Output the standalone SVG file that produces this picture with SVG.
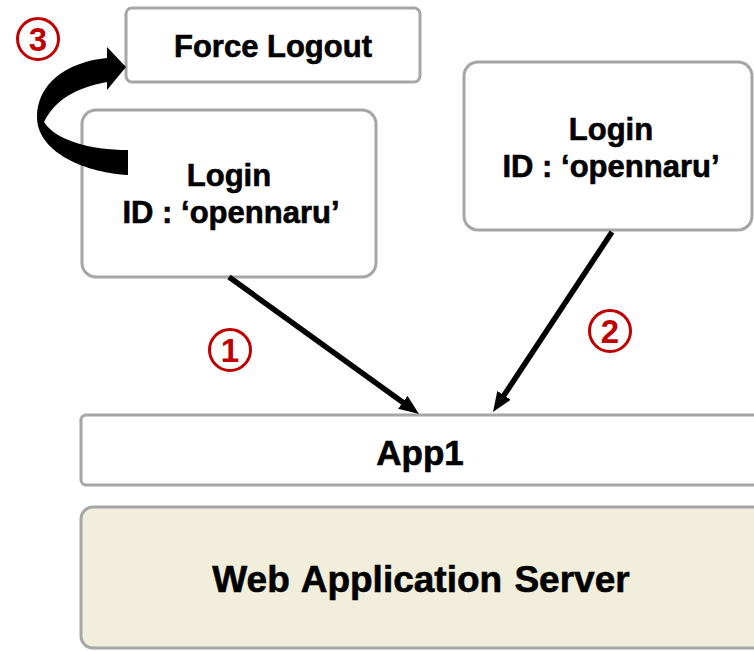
<svg xmlns="http://www.w3.org/2000/svg" width="754" height="651" viewBox="0 0 754 651">
<defs>
<style>
.box{fill:#FFFFFF;stroke:#A6A6A6;stroke-width:3}
.was{fill:#F1EFDC;stroke:#A6A6A6;stroke-width:3}
.t{font-family:"Liberation Sans",Arial,sans-serif;font-weight:bold;fill:#000;stroke:#000;stroke-width:0.6;text-anchor:middle}
.conn{stroke:#000;stroke-width:5.5;fill:none}
.num{fill:none;stroke:#C00000;stroke-width:3}
.numt{font-family:"Liberation Sans",Arial,sans-serif;font-weight:bold;fill:#C00000;text-anchor:middle;font-size:33px}
</style>
<marker id="ah" viewBox="0 0 20 16" refX="8" refY="8" markerWidth="20" markerHeight="16" markerUnits="userSpaceOnUse" orient="auto">
<path d="M0,0 L20,8 L0,16 Z" fill="#000"/>
</marker>
</defs>
<rect width="754" height="651" fill="#FFFFFF"/>
<g id="force-logout">
<rect class="box" x="126" y="8" width="294" height="74" rx="6"/>
<text class="t" x="273" y="57" font-size="31">Force Logout</text>
</g>
<g id="login-left">
<rect class="box" x="82" y="110" width="294" height="167" rx="14"/>
<text class="t" x="229" y="186" font-size="31">Login</text>
<text class="t" x="231" y="223" font-size="31">ID : ‘opennaru’</text>
</g>
<g id="login-right">
<rect class="box" x="464" y="62" width="288" height="168" rx="14"/>
<text class="t" x="611" y="140" font-size="31">Login</text>
<text class="t" x="611" y="177" font-size="31">ID : ‘opennaru’</text>
</g>
<g id="app1">
<rect class="box" x="81" y="415" width="700" height="70" rx="5"/>
<text class="t" x="420" y="465" font-size="35">App1</text>
</g>
<g id="was">
<rect class="was" x="81" y="507" width="700" height="141" rx="12"/>
<text class="t" x="421" y="592" font-size="37" word-spacing="2">Web Application Server</text>
</g>
<g id="connectors">
<line class="conn" x1="229" y1="277" x2="409.3" y2="407" marker-end="url(#ah)"/>
<line class="conn" x1="612" y1="232" x2="499.6" y2="402" marker-end="url(#ah)"/>
<path id="curved-arrow" d="M128,150 C90,150 55,140 44,122 C55,100 75,88 107,82 L107,90 L126,67 L107,47 L107,58 C65,62 37,85 37,117 C37,150 80,172 128,175 Z" fill="#000"/>
</g>
<g id="label-1">
<circle class="num" cx="230" cy="350" r="20.5"/>
<text class="numt" x="230" y="362">1</text>
</g>
<g id="label-2">
<circle class="num" cx="610" cy="331" r="20.5"/>
<text class="numt" x="610" y="343">2</text>
</g>
<g id="label-3">
<circle class="num" cx="38" cy="39" r="20.5"/>
<text class="numt" x="38" y="51">3</text>
</g>
</svg>
